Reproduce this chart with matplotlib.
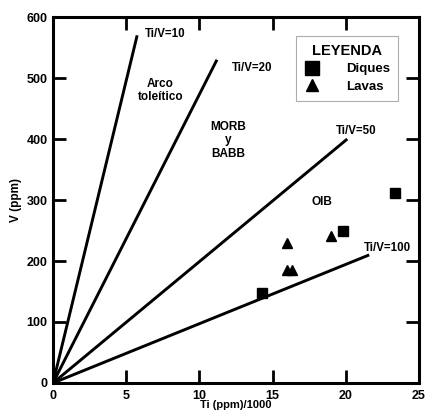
import matplotlib
matplotlib.use("Agg")
import matplotlib.pyplot as plt

plt.rcParams['font.family'] = ['Liberation Sans', 'DejaVu Sans']
plt.rcParams['font.weight'] = 'bold'

# Reference lines (Ti/V ratios) - drawn from origin to end points
ratio_labels = ["Ti/V=10", "Ti/V=20", "Ti/V=50", "Ti/V=100"]
line_end_x = [5.75, 11.2, 20.1, 21.6]
line_end_v = [570, 530, 400, 210]
label_x = [6.3, 12.2, 19.3, 21.25]
label_v = [572, 516, 413, 221]

# Samples
diques_ti = [14.25, 19.8, 23.35]
diques_v = [147, 250, 311]
lavas_ti = [15.95, 16.0, 16.35, 19.0]
lavas_v = [229, 186, 186, 241]

# Field labels
field_names = ["Arco\ntoleítico", "MORB\ny\nBABB", "OIB"]
field_x = [7.35, 11.97, 18.35]
field_v = [480, 398, 297]

fig = plt.figure(figsize=(4.25, 4.12), dpi=100)
ax = fig.add_axes([0.1247, 0.0704, 0.8612, 0.8883])

for xe, ve in zip(line_end_x, line_end_v):
    ax.plot([0, xe], [0, ve], color='black', lw=2.1, solid_capstyle='butt')

for t, x, v in zip(ratio_labels, label_x, label_v):
    ax.text(x, v, t, fontsize=8.3, fontweight='bold', ha='left', va='center')

for t, x, v in zip(field_names, field_x, field_v):
    ax.text(x, v, t, fontsize=8.5, fontweight='bold', ha='center', va='center',
            linespacing=1.15)

ax.plot(diques_ti, diques_v, 's', color='black', ms=7.5, label='Diques', ls='none')
ax.plot(lavas_ti, lavas_v, '^', color='black', ms=7, label='Lavas', ls='none')

ax.set_xlim(0, 25)
ax.set_ylim(0, 600)
ax.set_xticks([0, 5, 10, 15, 20, 25])
ax.set_yticks([0, 100, 200, 300, 400, 500, 600])
ax.tick_params(direction='in', length=9.5, width=2, top=True, right=True,
               labelsize=9)
ax.tick_params(axis='x', pad=5)
ax.tick_params(axis='y', pad=4)
for lab in ax.get_xticklabels() + ax.get_yticklabels():
    lab.set_fontweight('bold')
for s in ax.spines.values():
    s.set_linewidth(2.2)

ax.set_xlabel('Ti (ppm)/1000', fontsize=8, fontweight='bold', labelpad=-1.5)
ax.set_ylabel('V (ppm)', fontsize=8.5, fontweight='bold', labelpad=3)

leg = ax.legend(loc='upper left', bbox_to_anchor=(0.664, 0.948), title='LEYENDA',
                fontsize=9.5, title_fontproperties={'weight': 'bold', 'size': 10.5},
                frameon=True, fancybox=False, edgecolor='#999999', borderpad=0.6,
                handletextpad=2.0, labelspacing=0.4, handlelength=1.2,
                markerscale=1.3, borderaxespad=0)
leg.get_frame().set_linewidth(0.8)
for t in leg.get_texts():
    t.set_fontweight('bold')

fig.savefig('out.png', dpi=100)
